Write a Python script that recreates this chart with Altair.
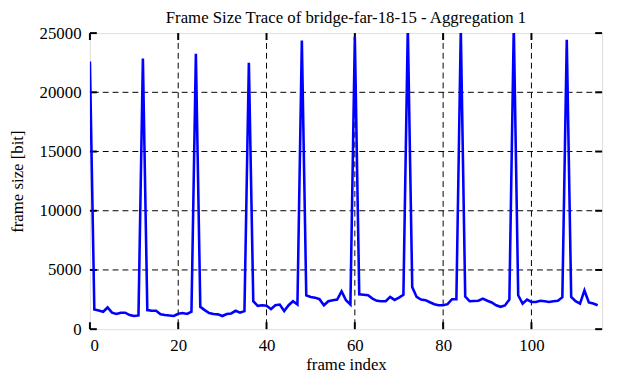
import altair as alt
import pandas as pd

frame_size = [
    22600, 1660, 1580, 1470, 1830, 1390, 1280, 1390, 1390, 1190, 1110, 1160,
    22850, 1610, 1550, 1550, 1250, 1190, 1160, 1110, 1300, 1360, 1280, 1470,
    23250, 1890, 1610, 1360, 1280, 1250, 1110, 1280, 1330, 1550, 1390, 1530,
    22500, 2360, 1970, 2020, 1970, 1690, 2020, 2080, 1530, 2020, 2360, 2080,
    24380, 2860, 2720, 2660, 2530, 2020, 2360, 2450, 2500, 3190, 2440, 2080,
    24700, 2940, 2910, 2860, 2580, 2390, 2360, 2360, 2720, 2470, 2660, 2910,
    25500, 3550, 2720, 2500, 2450, 2270, 2110, 2020, 2020, 2110, 2530, 2530,
    25300, 2750, 2360, 2380, 2400, 2580, 2400, 2250, 2020, 1890, 2000, 2500,
    25600, 2860, 2160, 2500, 2300, 2300, 2400, 2350, 2300, 2350, 2400, 2700,
    24440, 2720, 2360, 2160, 3270, 2250, 2160, 2020,
]
frame_index = list(range(len(frame_size)))
x_ticks = [0, 20, 40, 60, 80, 100]
y_ticks = [0, 5000, 10000, 15000, 20000, 25000]
x_grid = [20, 40, 60, 80, 100]
y_grid = [5000, 10000, 15000, 20000]

W, H = 519, 300
FONT = "Liberation Serif"
FS = 17

df = pd.DataFrame({"idx": frame_index, "size": frame_size})
xs = alt.Scale(domain=[0, 116], nice=False, zero=False)
ys = alt.Scale(domain=[0, 25000], nice=False)

xaxis = alt.Axis(values=x_ticks, grid=False, ticks=False, domain=False, format="d",
                 labelFont=FONT, labelFontSize=FS, labelColor="black",
                 labelPadding=9, title="frame index", titleFont=FONT,
                 titleFontSize=FS, titleFontWeight="normal", titleColor="black",
                 titleX=W / 2, titleY=36, titleBaseline="middle", titleAlign="center")
yaxis = alt.Axis(values=y_ticks, grid=False, ticks=False, domain=False, format="d",
                 labelFont=FONT, labelFontSize=FS, labelColor="black",
                 labelPadding=9, title="frame size [bit]", titleFont=FONT,
                 titleFontSize=FS, titleFontWeight="normal", titleColor="black",
                 titleX=-73, titleY=H / 2, titleAngle=-90,
                 titleBaseline="middle", titleAlign="center")

line = alt.Chart(df).mark_line(color="#0000ff", strokeWidth=2.6, clip=True).encode(
    x=alt.X("idx:Q", scale=xs, axis=xaxis),
    y=alt.Y("size:Q", scale=ys, axis=yaxis),
)

gx = pd.DataFrame({"v": x_grid})
gy = pd.DataFrame({"v": y_grid})
tx = pd.DataFrame({"v": x_ticks})
ty = pd.DataFrame({"v": y_ticks})

grid_style = dict(color="black", strokeWidth=1, strokeDash=[6, 4])
vgrid = alt.Chart(gx).mark_rule(**grid_style).encode(
    x=alt.X("v:Q", scale=xs, axis=xaxis))
hgrid = alt.Chart(gy).mark_rule(**grid_style).encode(
    y=alt.Y("v:Q", scale=ys, axis=yaxis))

tick_style = dict(color="black", strokeWidth=2)
tl = alt.Chart(ty).mark_rule(**tick_style).encode(
    y=alt.Y("v:Q", scale=ys, axis=yaxis), x=alt.value(0), x2=alt.value(7))
tr = alt.Chart(ty).mark_rule(**tick_style).encode(
    y=alt.Y("v:Q", scale=ys, axis=yaxis), x=alt.value(W - 7), x2=alt.value(W))
tb = alt.Chart(tx).mark_rule(**tick_style).encode(
    x=alt.X("v:Q", scale=xs, axis=xaxis), y=alt.value(H - 7), y2=alt.value(H))
tt = alt.Chart(tx).mark_rule(**tick_style).encode(
    x=alt.X("v:Q", scale=xs, axis=xaxis), y=alt.value(0), y2=alt.value(7))

chart = alt.layer(vgrid, hgrid, tl, tr, tb, tt, line).properties(
    width=W, height=H,
    title=alt.TitleParams("Frame Size Trace of bridge-far-18-15 - Aggregation 1",
                          font=FONT, fontSize=FS, fontWeight="normal",
                          color="black", anchor="middle", offset=-3),
    autosize="none",
    padding={"left": 83, "top": 23, "right": 7, "bottom": 43},
).configure_view(stroke="black", strokeWidth=2).configure(
    background="white", font=FONT
).configure_axis(labelFont=FONT, titleFont=FONT)

chart.save("out.html", embed_options={"renderer": "svg", "actions": False})
